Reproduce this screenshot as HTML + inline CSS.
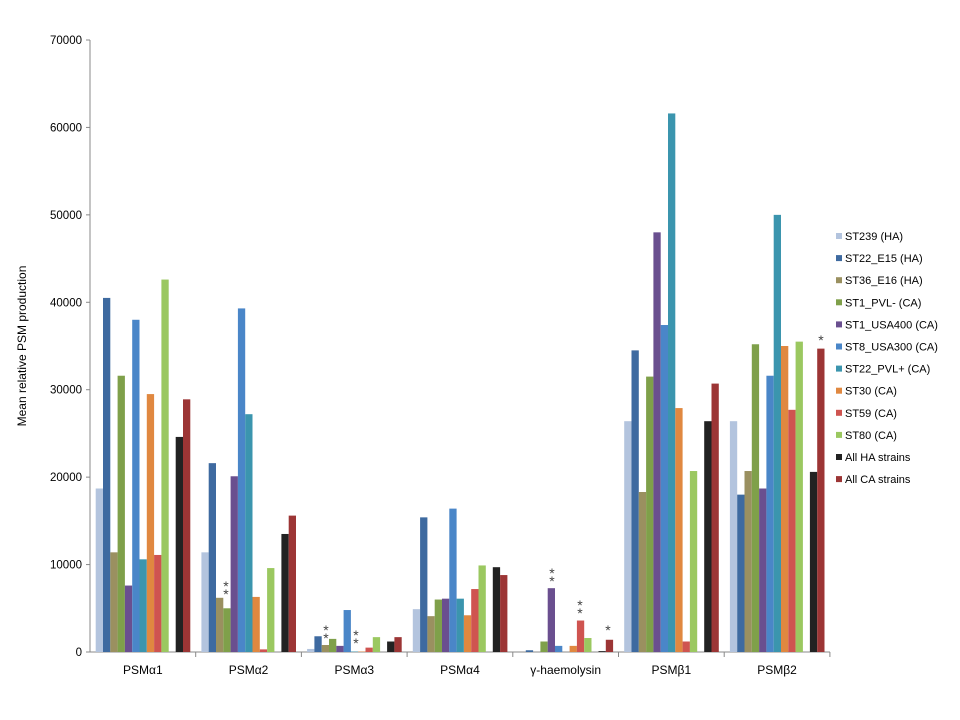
<!DOCTYPE html><html><head><style>body{margin:0;background:#fff}svg{display:block;font-family:"Liberation Sans",Arial,sans-serif}</style></head><body>
<svg width="960" height="720" id="s" xmlns="http://www.w3.org/2000/svg"></svg>
<script>
const s=document.getElementById('s');let h='';
const C=['#b3c4de','#3e6aa0','#9a9060','#7fa04a','#6a4f8f','#4a86c8','#3b95ae','#e08840','#cf5450','#9bc860','#222222','#9c3535'];
const N=['ST239 (HA)','ST22_E15 (HA)','ST36_E16 (HA)','ST1_PVL- (CA)','ST1_USA400 (CA)','ST8_USA300 (CA)','ST22_PVL+ (CA)','ST30 (CA)','ST59 (CA)','ST80 (CA)','All HA strains','All CA strains'];
const G=['PSMα1','PSMα2','PSMα3','PSMα4','γ-haemolysin','PSMβ1','PSMβ2'];
const D=[[18700,40500,11400,31600,7600,38000,10600,29500,11100,42600,24600,28900],
[11400,21600,6200,5000,20100,39300,27200,6300,300,9600,13500,15600],
[350,1800,800,1500,700,4800,50,50,500,1700,1200,1700],
[4900,15400,4100,6000,6100,16400,6100,4200,7200,9900,9700,8800],
[0,200,0,1200,7300,700,0,700,3600,1600,100,1400],
[26400,34500,18300,31500,48000,37400,61600,27900,1200,20700,26400,30700],
[26400,18000,20700,35200,18700,31600,50000,35000,27700,35500,20600,34700]];
const Y=v=>652-v*612/70000;
for(let i=0;i<=7;i++){let v=i*10000;h+=`<line x1="86" x2="90" y1="${Y(v)}" y2="${Y(v)}" stroke="#888"/><text x="82" y="${Y(v)+4}" font-size="11.5" text-anchor="end">${v}</text>`;}
h+=`<line x1="90" x2="90" y1="40" y2="652" stroke="#888"/><line x1="90" x2="830" y1="652" y2="652" stroke="#888"/>`;
const GW=105.7,BW=7.3;
for(let g=0;g<7;g++){const x0=90+g*GW;h+=`<line x1="${x0+GW}" x2="${x0+GW}" y1="652" y2="657" stroke="#888"/><text x="${x0+GW/2}" y="674" font-size="12" text-anchor="middle">${G[g]}</text>`;
for(let b=0;b<12;b++){const x=x0+5.7+(b<10?b*BW:80+(b-10)*BW);const v=D[g][b];h+=`<rect x="${x}" y="${Y(v)}" width="${BW}" height="${652-Y(v)}" fill="${C[b]}"/>`;}}
const st=[[226,591,2],[326,635,2],[356,640,2],[552,578,2],[580,610,2],[608,635,1],[821,345,1]];
st.forEach(([x,y,n])=>{for(let k=0;k<n;k++)h+=`<text x="${x}" y="${y+k*8}" font-size="14" text-anchor="middle" fill="#444">*</text>`});
h+=`<text transform="translate(26,346) rotate(-90)" font-size="12" text-anchor="middle">Mean relative PSM production</text>`;
for(let i=0;i<12;i++){const y=237+i*22.1;h+=`<rect x="836" y="${y-4}" width="6" height="6" fill="${C[i]}"/><text x="845" y="${y+3}" font-size="11">${N[i]}</text>`;}
s.innerHTML=h;
</script></body></html>
